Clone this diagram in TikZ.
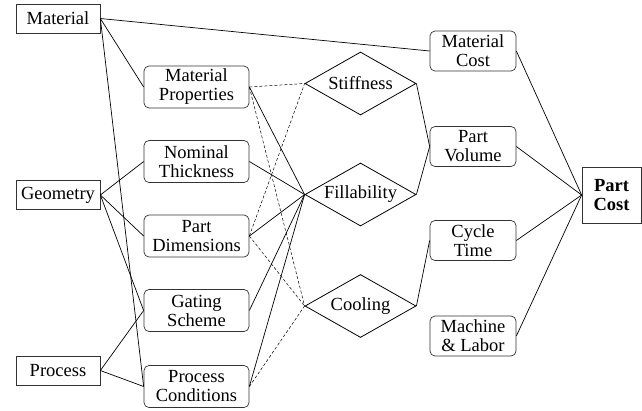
\documentclass[tikz,border=0pt]{standalone}
\usepackage{fontspec}
\setmainfont{Liberation Serif}
\usepackage{tikz}
\usetikzlibrary{shapes.geometric}

\begin{document}
\begin{tikzpicture}[x=1pt, y=-1pt,
  font=\fontsize{18.5}{19}\selectfont,
  sbox/.style={rectangle, draw=black!80, line width=0.7pt, inner sep=0pt,
               minimum width=84pt, minimum height=29pt, align=center},
  rbox/.style={rectangle, draw=black!80, line width=0.7pt, rounded corners=5pt,
               inner sep=0pt, minimum width=105pt, minimum height=42pt, align=center},
  obox/.style={rbox, minimum width=86pt, minimum height=40pt},
  dia/.style={diamond, draw=black, line width=0.8pt, inner sep=0pt, aspect=1.76,
              minimum width=111pt, minimum height=63pt},
  link/.style={line width=0.7pt},
  dlink/.style={line width=0.5pt, dash pattern=on 3pt off 2pt}
]
  \useasboundingbox (0,0) rectangle (642,410);

  \node[sbox] (mat)  at (58, 18.5)  {Material};
  \node[sbox] (geo)  at (58, 195)   {Geometry};
  \node[sbox] (proc) at (58, 370.5) {Process};

  \node[rbox] (mprop) at (196.5, 87)    {Material\\Properties};
  \node[rbox] (nthk)  at (196.5, 161.5) {Nominal\\Thickness};
  \node[rbox] (pdim)  at (196.5, 236)   {Part\\Dimensions};
  \node[rbox] (gate)  at (196.5, 310.5) {Gating\\Scheme};
  \node[rbox] (pcond) at (196.5, 386.5) {Process\\Conditions};

  \node[dia] (stiff) at (360.5, 83.5)  {Stiffness};
  \node[dia] (fill)  at (360.5, 194.5) {Fillability};
  \node[dia] (cool)  at (360.5, 306)   {Cooling};

  \node[obox] (mcost) at (473, 51)    {Material\\Cost};
  \node[obox] (pvol)  at (473, 146.5) {Part\\Volume};
  \node[obox] (ctime) at (473, 240.5) {Cycle\\Time};
  \node[obox] (mlab)  at (473, 336)   {Machine\\\& Labor};

  \node[sbox, minimum width=59pt, minimum height=56pt, font=\fontsize{18.5}{19}\selectfont\bfseries]
    (pcost) at (611.5, 195) {Part\\Cost};

  % inputs
  \draw[link] (mat.east) -- (mcost.west);
  \draw[link] (mat.east) -- (mprop.west);
  \draw[link] (mat.east) -- (pcond.west);
  \draw[link] (geo.east) -- (nthk.west);
  \draw[link] (geo.east) -- (pdim.west);
  \draw[link] (geo.east) -- (gate.west);
  \draw[link] (proc.east) -- (gate.west);
  \draw[link] (proc.east) -- (pcond.west);

  % parameters to performance
  \draw[dlink] (mprop.east) -- (stiff.west);
  \draw[link]  (mprop.east) -- (fill.west);
  \draw[dlink] (mprop.east) -- (cool.west);
  \draw[link]  (nthk.east) -- (fill.west);
  \draw[dlink] (pdim.east) -- (stiff.west);
  \draw[link]  (pdim.east) -- (fill.west);
  \draw[dlink] (pdim.east) -- (cool.west);
  \draw[link]  (gate.east) -- (fill.west);
  \draw[link]  (pcond.east) -- (fill.west);
  \draw[dlink] (pcond.east) -- (cool.west);

  % performance to cost
  \draw[link] (stiff.east) -- (pvol.west);
  \draw[link] (fill.east) -- (pvol.west);
  \draw[link] (cool.east) -- (ctime.west);
  \draw[link] (mcost.east) -- (pcost.west);
  \draw[link] (pvol.east) -- (pcost.west);
  \draw[link] (ctime.east) -- (pcost.west);
  \draw[link] (mlab.east) -- (pcost.west);
\end{tikzpicture}
\end{document}
